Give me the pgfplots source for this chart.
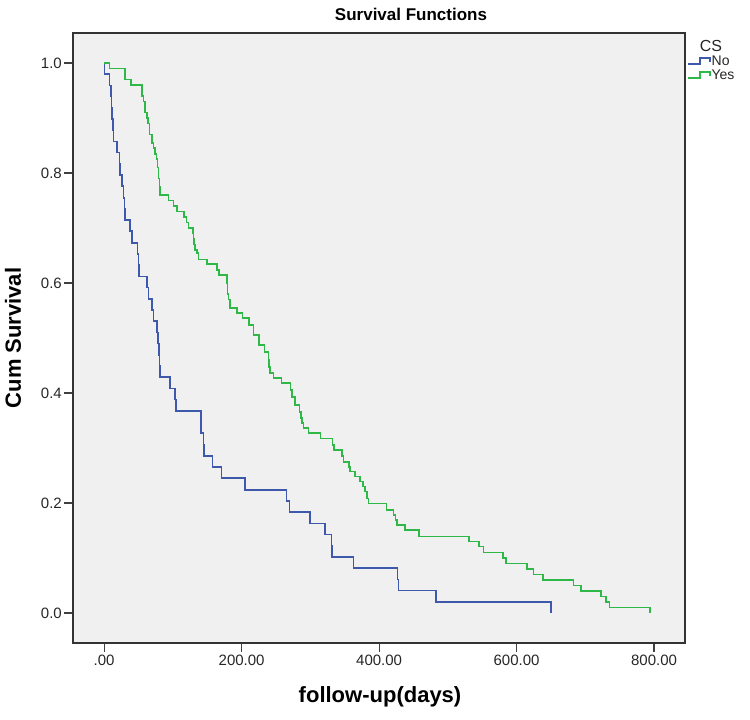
\documentclass[border=0pt]{standalone}
\usepackage{fontspec}
\setmainfont{Liberation Sans}
\usepackage{pgfplots}
\usepackage{pgfplotstable}
\pgfplotsset{compat=1.18}
\definecolor{bgc}{RGB}{240,240,240}
\definecolor{cno}{RGB}{62,88,172}
\definecolor{cyes}{RGB}{46,184,72}
\pgfplotstableread{
day surv
0 1.000
0.5 0.980
8 0.959
9.7 0.939
10.5 0.918
11.2 0.898
12.5 0.878
13.6 0.857
18.4 0.837
22.3 0.816
23.3 0.796
25.7 0.776
28.1 0.755
29.5 0.735
30.5 0.714
37.8 0.694
40.1 0.673
48.3 0.653
50 0.633
50.8 0.612
62 0.592
64.4 0.571
69.3 0.551
71.6 0.531
76.5 0.510
78.5 0.490
79.5 0.469
80.3 0.449
81.5 0.429
96 0.408
103.5 0.388
104.7 0.367
140.5 0.347
141 0.327
144.5 0.306
145 0.286
157.5 0.265
171 0.245
205 0.224
265.5 0.204
269.5 0.184
299.6 0.163
321.5 0.143
331 0.122
331.5 0.102
362.7 0.082
427 0.061
428 0.041
483 0.020
650 0.000
}\tabno
\pgfplotstableread{
day surv
0 1.000
8 0.990
30.5 0.970
38.8 0.960
54.7 0.940
57 0.930
59.6 0.910
62 0.900
64 0.890
65.9 0.870
69.3 0.855
72 0.845
74.2 0.835
76 0.825
77.5 0.810
79 0.790
80.5 0.775
81.5 0.760
93.6 0.750
100.7 0.740
105.6 0.730
116 0.720
120 0.710
122.5 0.700
128.9 0.690
130 0.680
131 0.670
132.4 0.660
134.8 0.654
137.2 0.643
149.3 0.635
163.8 0.624
167 0.615
178.4 0.600
179.5 0.580
181 0.570
183 0.555
193 0.545
201 0.536
211 0.524
217.2 0.505
225 0.487
233 0.475
239 0.460
240 0.447
241.5 0.436
246.3 0.427
258 0.418
271 0.405
272.9 0.393
277.8 0.378
284 0.365
286 0.355
287.5 0.345
290 0.336
297.5 0.327
315 0.317
332 0.305
334 0.296
346 0.285
348 0.275
356 0.265
357.8 0.257
365 0.248
372.4 0.239
377 0.230
379.6 0.221
382 0.208
384.4 0.199
411 0.187
420.8 0.178
424 0.169
425.7 0.160
437.8 0.151
458 0.139
531 0.130
545.5 0.121
551.7 0.110
580 0.100
585 0.090
615 0.080
624.5 0.070
638.5 0.060
683 0.050
693.5 0.040
722.5 0.030
730.5 0.020
735 0.010
794 0.000
}\tabyes
\begin{document}
\begin{tikzpicture}
\useasboundingbox (0pt,0pt) rectangle (750pt,720pt);
\begin{axis}[at={(73pt,77pt)}, anchor=south west, scale only axis,
 width=612pt, height=610pt,
 xmin=-45.3, xmax=845, ymin=-0.0545, ymax=1.0545,
 axis background/.style={fill=bgc},
 axis line style={black!80, line width=1.2pt},
 xtick={0,200,400,600,800},
 xticklabels={.00,200.00,400.00,600.00,800.00},
 ytick={0,0.2,0.4,0.6,0.8,1.0},
 yticklabels={0.0,0.2,0.4,0.6,0.8,1.0},
 tick align=outside, xtick pos=bottom, ytick pos=left,
 major tick length=9pt,
 tick style={black!75, line width=1.2pt},
 tick label style={font=\fontsize{15}{15}\selectfont, text=black!85},
 yticklabel style={inner sep=2pt},
 xticklabel style={inner sep=3pt},
 legend image code/.code={\draw[#1] (0pt,-3pt) -- (12pt,-3pt) -- (12pt,3pt) -- (22pt,3pt) -- (22pt,-1pt);},
 legend style={at={(axis description cs:1.003,0.965)}, anchor=north west,
   draw=none, fill=none, font=\fontsize{14}{14}\selectfont,
   row sep=1pt, inner sep=0pt, nodes={inner sep=1pt, text=black!85}},
 legend cell align=left,
]
\addplot[const plot, cno, line width=1.6pt] table[x=day,y=surv] {\tabno};
\addlegendentry{No}
\addplot[const plot, cyes, line width=1.6pt] table[x=day,y=surv] {\tabyes};
\addlegendentry{Yes}
\end{axis}
\node[font=\fontsize{17}{17}\selectfont\bfseries] at (411pt,706pt) {Survival Functions};
\node[font=\fontsize{16}{16}\selectfont, text=black!85] at (711pt,674pt) {CS};
\node[font=\fontsize{22}{22}\selectfont\bfseries, rotate=90] at (13pt,382pt) {Cum Survival};
\node[font=\fontsize{22}{22}\selectfont\bfseries] at (380pt,23pt) {follow-up(days)};
\end{tikzpicture}
\end{document}
